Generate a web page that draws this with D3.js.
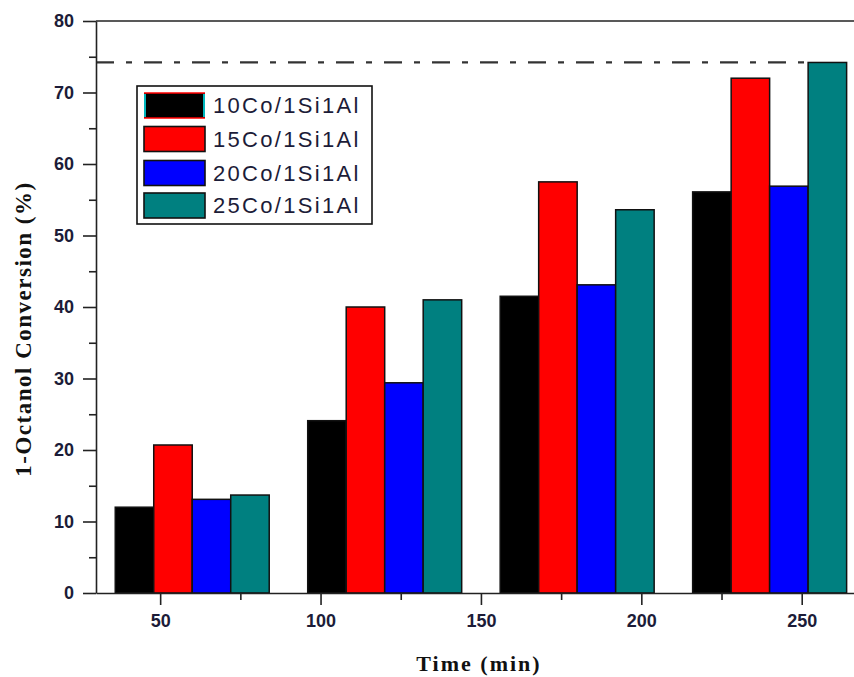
<!DOCTYPE html>
<html>
<head>
<meta charset="utf-8">
<script src="https://cdn.jsdelivr.net/npm/d3@7"></script>
<style>
  html, body { margin: 0; padding: 0; background: #fff; }
  svg { display: block; }
</style>
</head>
<body>
<svg id="chart" width="854" height="677"></svg>
<script>
// Reaction times (min) at which conversion was sampled
const times = [60, 120, 180, 240];
// Catalyst series
const seriesNames = ["10Co/1Si1Al", "15Co/1Si1Al", "20Co/1Si1Al", "25Co/1Si1Al"];
const seriesColors = ["#000000", "#ff0000", "#0000ff", "#008080"];
// 1-Octanol conversion (%) per series, one value per time
const conv10 = [12.0, 24.1, 41.5, 56.1];
const conv15 = [20.7, 40.0, 57.5, 72.0];
const conv20 = [13.1, 29.4, 43.1, 56.9];
const conv25 = [13.7, 41.0, 53.6, 74.2];
// Axis ticks
const xTicks = [50, 100, 150, 200, 250];
const xMinorTicks = [75, 125, 175, 225];
const yTicks = [0, 10, 20, 30, 40, 50, 60, 70, 80];
const yMinorTicks = [5, 15, 25, 35, 45, 55, 65, 75];
// Reference level (max conversion)
const refLevel = 74.2;

const seriesValues = [conv10, conv15, conv20, conv25];
const barWidthMin = 12; // bar width in minutes

const svg = d3.select("#chart");
const x = d3.scaleLinear().domain([30, 266.3]).range([96, 854]);
const y = d3.scaleLinear().domain([0, 80]).range([593, 21]);

const axisColor = "#222";
const tickFont = "'Liberation Sans', Arial, sans-serif";
const labelColor = "#1c1c38";

// Reference dash-dot line
svg.append("line")
  .attr("x1", x(30)).attr("x2", x(times[3] + barWidthMin))
  .attr("y1", y(refLevel)).attr("y2", y(refLevel))
  .attr("stroke", "#333").attr("stroke-width", 2.2)
  .attr("stroke-dasharray", "18 12 6 12");

// Bars
seriesValues.forEach((vals, si) => {
  svg.append("g").selectAll("rect")
    .data(vals.map((v, i) => ({ t: times[i], v })))
    .join("rect")
    .attr("x", d => x(d.t + (si - 2) * barWidthMin))
    .attr("width", d => x(d.t + (si - 1) * barWidthMin) - x(d.t + (si - 2) * barWidthMin))
    .attr("y", d => y(d.v))
    .attr("height", d => y(0) - y(d.v))
    .attr("fill", seriesColors[si])
    .attr("stroke", "#111")
    .attr("stroke-width", 1.5);
});

// Top frame line
svg.append("line")
  .attr("x1", x(30)).attr("x2", 854)
  .attr("y1", y(80)).attr("y2", y(80))
  .attr("stroke", axisColor).attr("stroke-width", 1.6);

// Left axis
svg.append("g")
  .attr("transform", `translate(${x(30)},0)`)
  .call(d3.axisLeft(y).tickValues(yTicks).tickSize(13).tickSizeOuter(0).tickPadding(9));
svg.append("g")
  .attr("transform", `translate(${x(30)},0)`)
  .call(d3.axisLeft(y).tickValues(yMinorTicks).tickSize(7).tickSizeOuter(0).tickFormat(""))
  .select(".domain").remove();

// Bottom axis
svg.append("g")
  .attr("transform", `translate(0,${y(0)})`)
  .call(d3.axisBottom(x).tickValues(xTicks).tickSize(12).tickSizeOuter(0).tickPadding(9));
svg.append("g")
  .attr("transform", `translate(0,${y(0)})`)
  .call(d3.axisBottom(x).tickValues(xMinorTicks).tickSize(7).tickSizeOuter(0).tickFormat(""))
  .select(".domain").remove();

svg.selectAll(".domain, .tick line")
  .attr("stroke", axisColor).attr("stroke-width", 1.6);
svg.selectAll(".tick text")
  .attr("fill", labelColor)
  .style("font-family", tickFont)
  .style("font-size", "18px")
  .style("font-weight", "bold");

// Axis titles
svg.append("text")
  .attr("x", 479).attr("y", 671)
  .attr("text-anchor", "middle")
  .attr("fill", "#111")
  .style("font-family", "'Liberation Serif', 'Times New Roman', serif")
  .style("font-weight", "bold")
  .style("font-size", "22px")
  .style("letter-spacing", "2px")
  .text("Time (min)");

svg.append("text")
  .attr("transform", "translate(31,329) rotate(-90)")
  .attr("text-anchor", "middle")
  .attr("fill", "#111")
  .style("font-family", "'Liberation Serif', 'Times New Roman', serif")
  .style("font-weight", "bold")
  .style("font-size", "23px")
  .style("letter-spacing", "1.5px")
  .text("1-Octanol Conversion (%)");

// Legend
const legend = svg.append("g");
legend.append("rect")
  .attr("x", 137).attr("y", 86).attr("width", 235).attr("height", 138)
  .attr("fill", "#fff").attr("stroke", "#111").attr("stroke-width", 1.6);

const rowY = [105.5, 139, 173, 205.5];
seriesNames.forEach((name, i) => {
  const sx = 144, sw = 61, sh = 25, sy = rowY[i] - sh / 2;
  if (i === 0) {
    // first swatch carries coloured edges
    legend.append("rect").attr("x", sx).attr("y", sy).attr("width", sw).attr("height", sh)
      .attr("fill", seriesColors[i]);
    legend.append("line").attr("x1", sx).attr("x2", sx + sw).attr("y1", sy).attr("y2", sy)
      .attr("stroke", "#ff0000").attr("stroke-width", 1.6);
    legend.append("line").attr("x1", sx).attr("x2", sx + sw).attr("y1", sy + sh).attr("y2", sy + sh)
      .attr("stroke", "#ff0000").attr("stroke-width", 1.6);
    legend.append("line").attr("x1", sx + 1).attr("x2", sx + 1).attr("y1", sy + 1).attr("y2", sy + sh - 1)
      .attr("stroke", "#00e5ee").attr("stroke-width", 1.6);
    legend.append("line").attr("x1", sx + sw - 1).attr("x2", sx + sw - 1).attr("y1", sy + 1).attr("y2", sy + sh - 1)
      .attr("stroke", "#00e5ee").attr("stroke-width", 1.6);
  } else {
    legend.append("rect").attr("x", sx).attr("y", sy).attr("width", sw).attr("height", sh)
      .attr("fill", seriesColors[i]).attr("stroke", "#111").attr("stroke-width", 1.6);
  }
  legend.append("text")
    .attr("x", 213).attr("y", rowY[i])
    .attr("dominant-baseline", "central")
    .attr("fill", labelColor)
    .style("font-family", tickFont)
    .style("font-size", "22px")
    .style("letter-spacing", "2.3px")
    .text(name);
});
</script>
</body>
</html>
